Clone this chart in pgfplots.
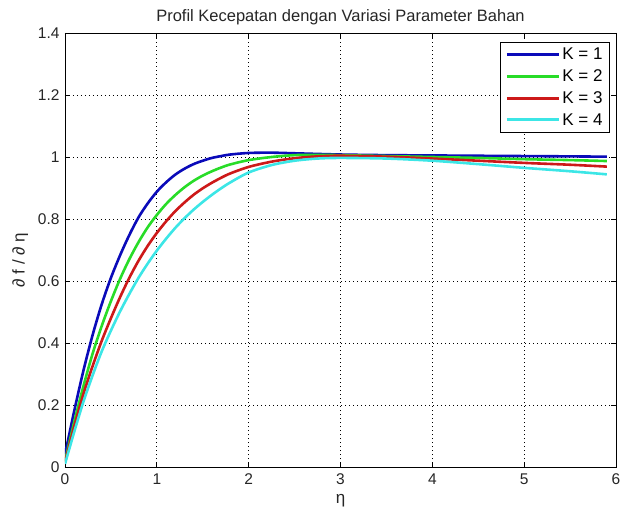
\documentclass[border=0pt]{standalone}
\usepackage{fontspec}
\setmainfont{Liberation Sans}
\usepackage{pgfplots}
\usepackage{pgfplotstable}
\pgfplotsset{compat=1.18}
\definecolor{cKa}{RGB}{10,10,185}
\definecolor{cKb}{RGB}{40,220,40}
\definecolor{cKc}{RGB}{205,25,25}
\definecolor{cKd}{RGB}{60,230,230}

\pgfplotstableread{
x y
0 0.04
0.1 0.18
0.2 0.31
0.3 0.425
0.4 0.525
0.5 0.61
0.6 0.683
0.7 0.748
0.8 0.805
0.9 0.85
1.0 0.888
1.1 0.918
1.2 0.943
1.3 0.962
1.4 0.977
1.5 0.988
1.6 0.997
1.7 1.003
1.8 1.008
2.0 1.013
2.25 1.014
2.5 1.012
3.0 1.008
3.5 1.006
4.0 1.005
4.5 1.004
5.0 1.003
5.5 1.002
5.9 1.001
}\kone
\pgfplotstableread{
x y
0 0.02
0.1 0.145
0.2 0.26
0.3 0.365
0.4 0.455
0.5 0.535
0.6 0.607
0.7 0.67
0.8 0.725
0.9 0.773
1.0 0.813
1.1 0.848
1.2 0.877
1.3 0.902
1.4 0.923
1.5 0.94
1.6 0.954
1.7 0.966
1.8 0.976
2.0 0.99
2.25 1.0
2.5 1.006
2.75 1.007
3.0 1.006
3.5 1.003
4.0 1.0
4.5 0.997
5.0 0.993
5.5 0.990
5.9 0.987
}\ktwo
\pgfplotstableread{
x y
0 0.015
0.1 0.13
0.2 0.235
0.3 0.325
0.4 0.407
0.5 0.48
0.6 0.548
0.7 0.61
0.8 0.665
0.9 0.713
1.0 0.755
1.1 0.792
1.2 0.825
1.3 0.853
1.4 0.878
1.5 0.899
1.6 0.917
1.7 0.933
1.8 0.947
2.0 0.968
2.25 0.985
2.5 0.996
2.75 1.002
3.0 1.004
3.5 1.001
4.0 0.995
4.5 0.988
5.0 0.981
5.5 0.975
5.9 0.969
}\kthree
\pgfplotstableread{
x y
0 0.01
0.1 0.113
0.2 0.21
0.3 0.295
0.4 0.373
0.5 0.44
0.6 0.502
0.7 0.558
0.8 0.61
0.9 0.656
1.0 0.698
1.1 0.736
1.2 0.771
1.3 0.802
1.4 0.83
1.5 0.855
1.6 0.878
1.7 0.899
1.8 0.918
2.0 0.95
2.25 0.974
2.5 0.988
2.75 0.995
3.0 0.997
3.5 0.995
4.0 0.988
4.5 0.977
5.0 0.965
5.5 0.954
5.9 0.944
}\kfour

\begin{document}
\begin{tikzpicture}
\path[use as bounding box] (-65pt,-48pt) rectangle (556pt,467pt);
\begin{axis}[
  at={(0,0)}, anchor=south west,
  scale only axis, width=551pt, height=434pt,
  xmin=0, xmax=6, ymin=0, ymax=1.4,
  xtick={0,1,2,3,4,5,6},
  ytick={0,0.2,0.4,0.6,0.8,1,1.2,1.4},
  yticklabels={0,0.2,0.4,0.6,0.8,1,1.2,1.4},
  grid=major,
  grid style={black, line width=0.7pt, dash pattern=on 1pt off 3pt},
  xtick pos=both, ytick pos=both,
  tick align=inside,
  major tick length=5pt,
  tick style={black, line width=0.8pt},
  axis line style={black, line width=0.8pt},
  /pgf/number format/assume math mode=true,
  tick label style={font=\fontsize{15.5}{17}\selectfont, text=black!85},
  xticklabel style={yshift=-3pt},
  yticklabel style={xshift=-2pt},
  title={Profil Kecepatan dengan Variasi Parameter Bahan},
  title style={font=\fontsize{16.5}{18}\selectfont, text=black!85, at={(0.5,1)}, anchor=south, yshift=-1pt},
  xlabel={η},
  ylabel={∂ f / ∂ η},
  label style={font=\fontsize{17}{19}\selectfont, text=black!85},
  xlabel style={yshift=-3pt},
  ylabel style={yshift=3pt, xshift=-10pt},
  legend style={at={(1,1)}, anchor=north east, xshift=-6pt, yshift=-9pt,
    draw=black, line width=0.8pt, font=\fontsize{17}{19}\selectfont,
    inner xsep=5pt, inner ysep=3.5pt, row sep=4.5pt, cells={anchor=west}},
  legend image code/.code={\draw[#1, line width=3pt] (0pt,0pt) -- (52pt,0pt);},
  every axis plot/.append style={line width=2.6pt},
]
\addplot[cKa, no marks, smooth] table[x=x,y=y] {\kone};
\addlegendentry{K = 1}
\addplot[cKb, no marks, smooth] table[x=x,y=y] {\ktwo};
\addlegendentry{K = 2}
\addplot[cKc, no marks, smooth] table[x=x,y=y] {\kthree};
\addlegendentry{K = 3}
\addplot[cKd, no marks, smooth] table[x=x,y=y] {\kfour};
\addlegendentry{K = 4}
\end{axis}
\end{tikzpicture}
\end{document}
